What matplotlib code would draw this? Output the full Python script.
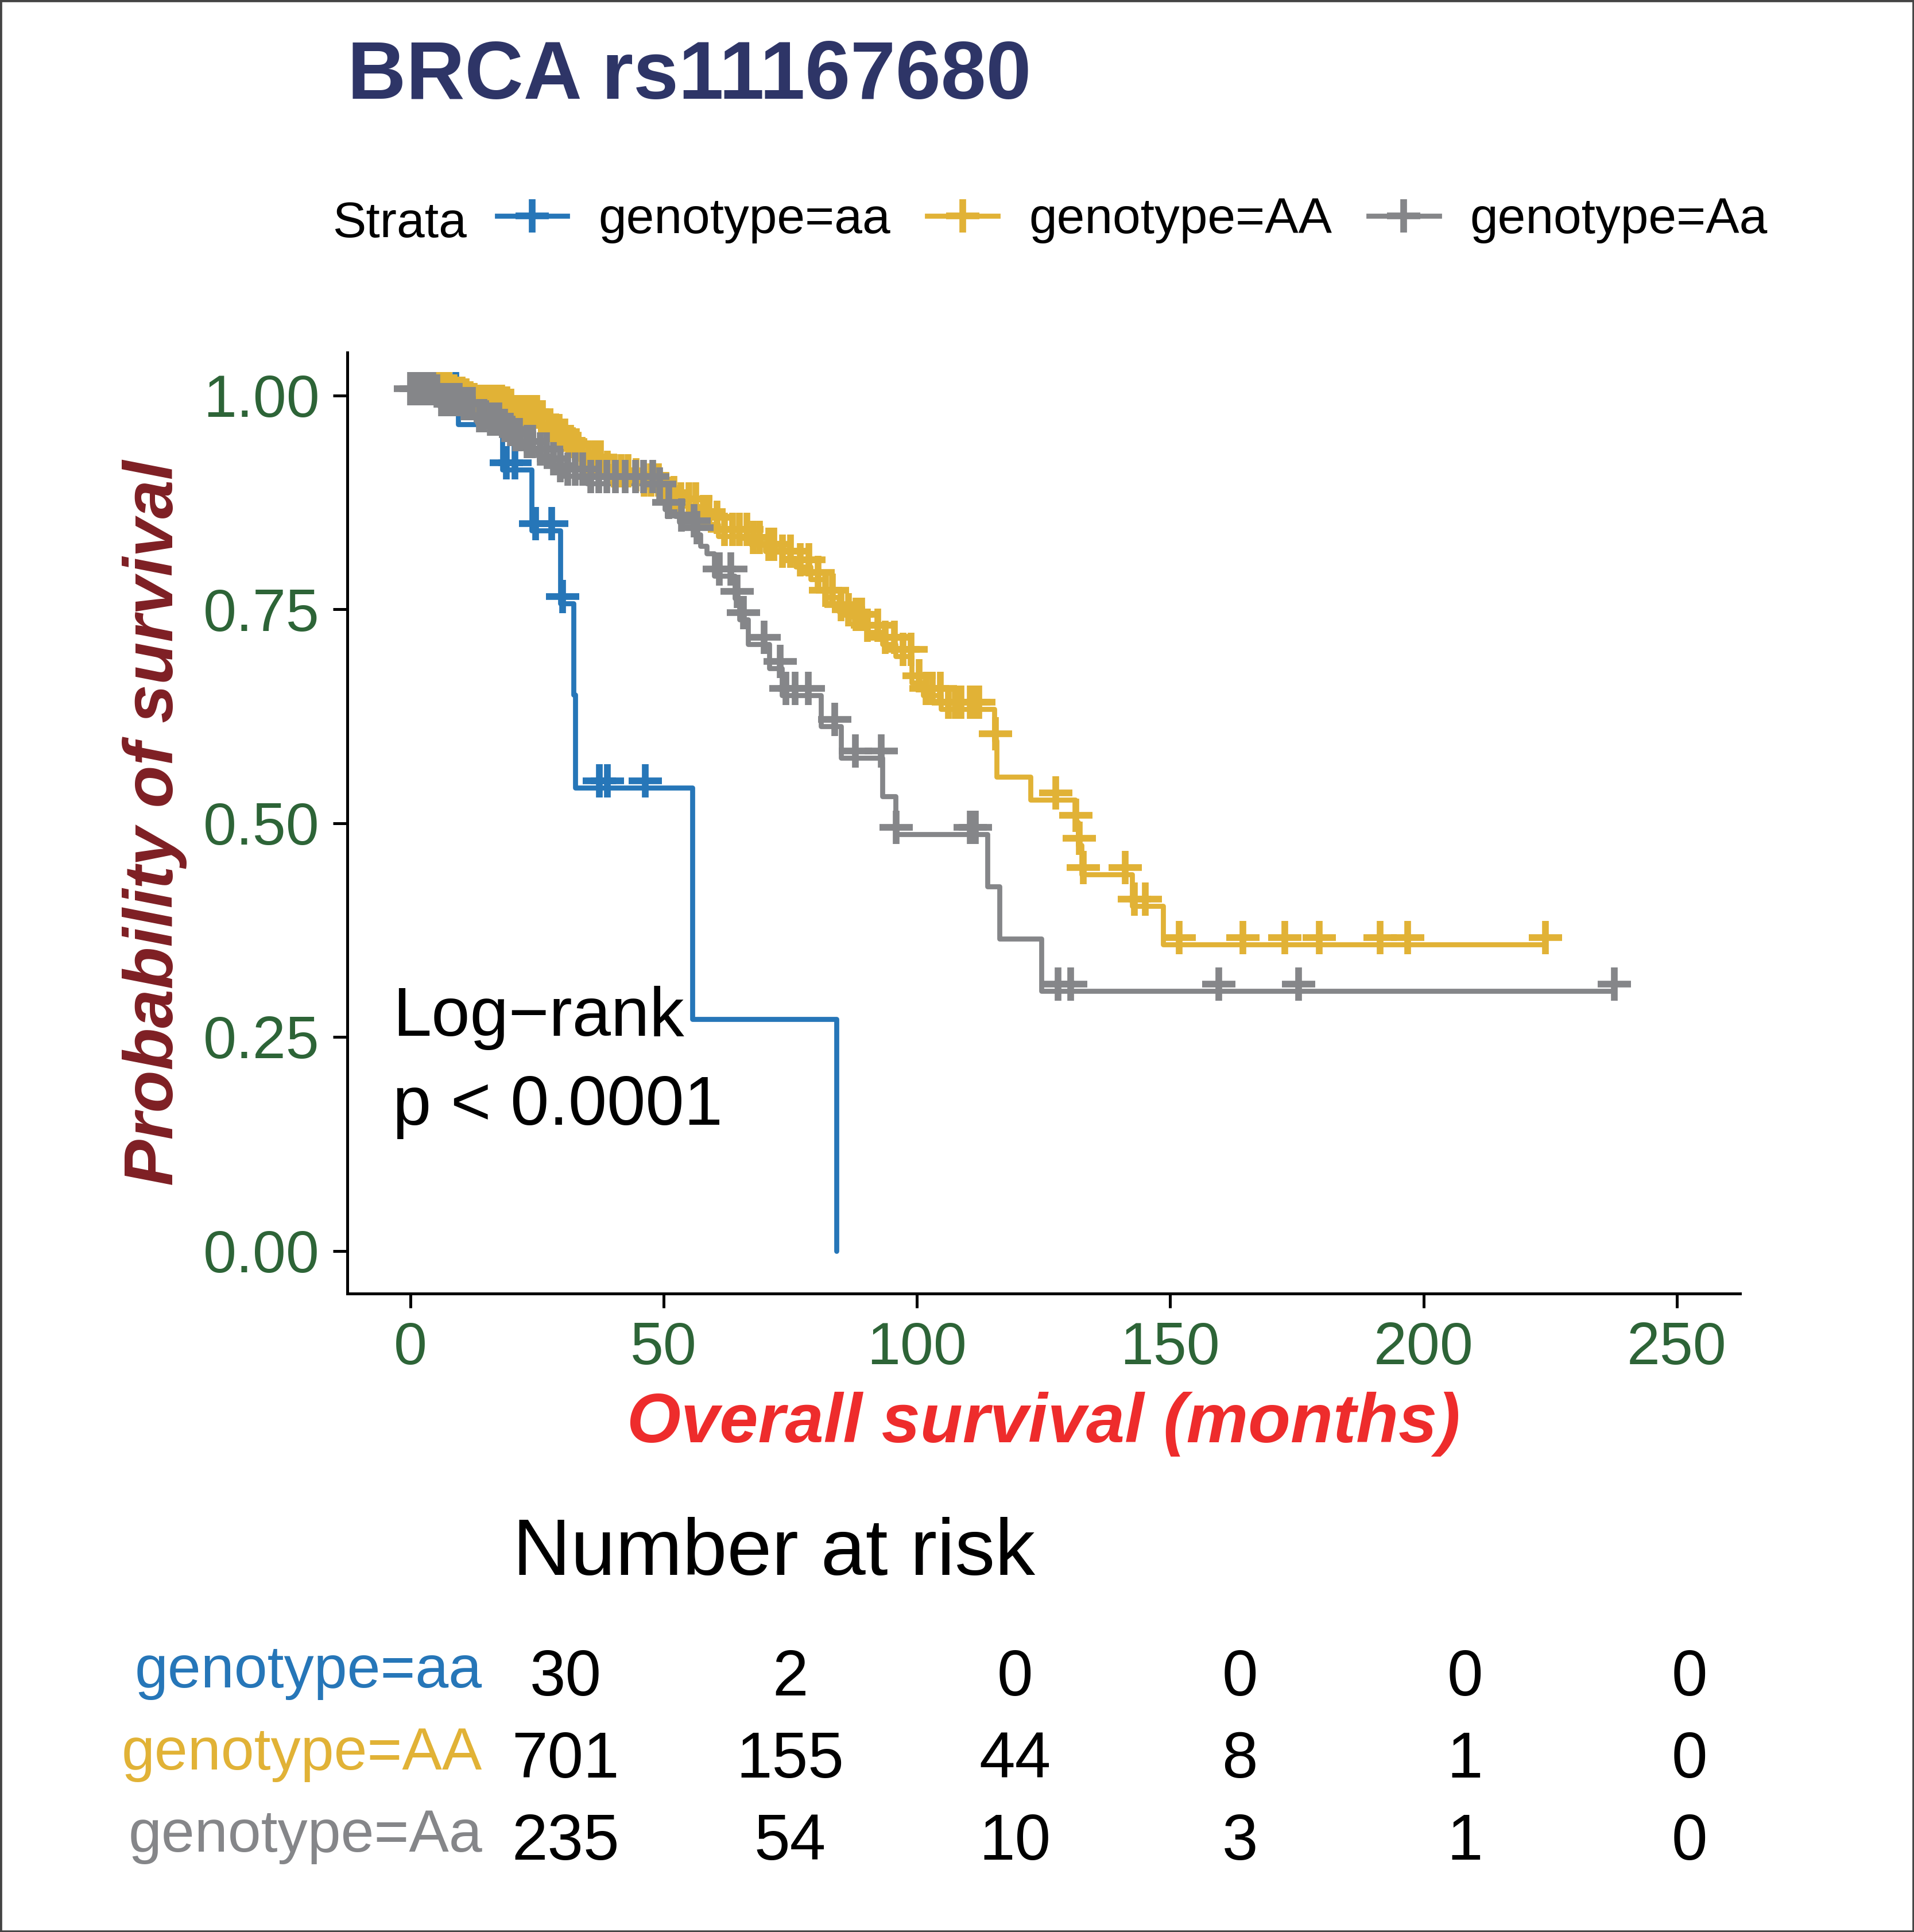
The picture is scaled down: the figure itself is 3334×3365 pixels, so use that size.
import numpy as np
import matplotlib
matplotlib.use("Agg")
import matplotlib.pyplot as plt
import matplotlib.transforms as mtransforms
from matplotlib.lines import Line2D
from matplotlib.patches import Rectangle

plt.rcParams['font.family'] = ['Liberation Sans', 'DejaVu Sans']

# ---------------- data ----------------
title = "BRCA rs11167680"
strata = ["genotype=aa", "genotype=AA", "genotype=Aa"]
colors = ["#2676B8", "#E1B236", "#858689"]

aa_time = [0, 9.4, 18.2, 23.9, 29.6, 32.2, 32.5, 55.7, 84.1]
aa_surv = [1.0, 0.966, 0.913, 0.842, 0.757, 0.650, 0.5416, 0.2708, 0.0]
aa_cens = [6.3, 9.0, 18.9, 20.6, 24.7, 27.9, 30.1, 37.3, 38.9, 46.4]

AA_time = [0, 8.1, 9.0, 10.5, 11.2, 12.1, 12.9, 18.4, 19.5, 20.9, 25.4, 26.8, 28.2,
           29.7, 30.9, 32.2, 33.7, 35.0, 38.1, 39.5, 43.2, 46.0, 49.5, 51.8, 52.8,
           56.8, 59.1, 60.8, 67.2, 70.1, 73.3, 76.1, 79.0, 81.9, 84.6, 86.3, 87.6,
           90.2, 93.2, 95.8, 98.9, 101.2, 104.7, 115.3, 115.7, 122.4, 131.2, 131.8,
           132.5, 142.5, 148.6, 224.1]
AA_surv = [1.0, 0.997, 0.994, 0.992, 0.989, 0.987, 0.985, 0.983, 0.980, 0.973, 0.967,
           0.957, 0.951, 0.945, 0.938, 0.934, 0.924, 0.920, 0.908, 0.904, 0.899, 0.893,
           0.883, 0.878, 0.871, 0.856, 0.849, 0.835, 0.826, 0.818, 0.810, 0.800, 0.785,
           0.764, 0.747, 0.741, 0.736, 0.723, 0.709, 0.695, 0.664, 0.649, 0.633, 0.596,
           0.554, 0.5275, 0.501, 0.474, 0.4397, 0.403, 0.358, 0.358]
AA_cens = [4.5, 5.5, 6.7, 7.6, 8.6, 9.5, 10.2, 11.0, 11.8, 12.6, 13.5, 14.3, 15.2, 16.1,
           17.0, 18.0, 19.0, 19.9, 21.0, 22.1, 23.0, 24.2, 25.0, 26.1, 27.3, 28.5, 29.4,
           30.5, 31.6, 32.8, 33.9, 35.2, 36.4, 37.5, 38.9, 40.3, 41.6, 43.0, 44.5, 46.1,
           47.5, 49.0, 50.5, 52.0, 53.4, 55.0, 56.3, 57.8, 59.0, 60.5, 62.0, 63.6, 65.0,
           66.4, 67.7, 68.9, 70.7, 71.8, 73.5, 75.0, 77.0, 78.7, 80.5, 82.0, 83.3, 85.0,
           86.5, 88.0, 89.1, 90.2, 92.3, 93.7, 95.5, 97.2, 98.8, 100.4, 101.8, 103.0,
           104.6, 106.2, 107.6, 108.7, 110.5, 111.2, 112.2, 115.5, 127.4, 131.4, 132.0,
           132.8, 141.1, 142.9, 145.1, 151.8, 164.3, 172.6, 179.4, 191.4, 196.9, 224.1]

Aa_time = [0, 4.7, 5.8, 10.3, 12.6, 13.2, 15.2, 17.8, 18.9, 20.5, 22.2, 25.2, 27.4,
           29.0, 30.2, 34.8, 48.5, 49.5, 50.2, 52.3, 53.0, 55.9, 56.6, 57.3, 58.5, 60.0,
           64.0, 64.9, 66.6, 70.9, 73.3, 81.1, 85.0, 93.2, 95.8, 113.9, 116.3, 124.6, 237.7]
Aa_surv = [1.0, 0.997, 0.987, 0.982, 0.975, 0.968, 0.964, 0.957, 0.952, 0.946, 0.938,
           0.929, 0.918, 0.910, 0.906, 0.897, 0.888, 0.877, 0.867, 0.859, 0.852, 0.845,
           0.837, 0.824, 0.815, 0.789, 0.763, 0.738, 0.709, 0.681, 0.649, 0.613, 0.576,
           0.531, 0.487, 0.4256, 0.3646, 0.304, 0.304]
Aa_cens = [0.0, 1.2, 2.0, 2.8, 3.5, 4.4, 5.2, 6.1, 7.0, 7.8, 8.9, 9.7, 10.6, 11.5, 12.3,
           13.6, 14.5, 15.8, 16.7, 17.5, 18.6, 19.7, 20.8, 21.6, 23.0, 24.1, 25.6, 26.9,
           28.2, 29.6, 31.1, 32.5, 34.0, 35.6, 37.2, 38.8, 40.5, 42.4, 44.4, 46.0, 47.8,
           49.2, 51.0, 53.5, 56.0, 56.6, 61.0, 63.3, 64.5, 65.8, 69.8, 73.0, 74.1, 75.9,
           78.6, 83.8, 87.9, 92.9, 95.9, 110.5, 111.5, 127.8, 130.4, 159.6, 175.4, 237.7]

risk_times = [0, 50, 100, 150, 200, 250]
risk_aa = [30, 2, 0, 0, 0, 0]
risk_AA = [701, 155, 44, 8, 1, 0]
risk_Aa = [235, 54, 10, 3, 1, 0]

x_ticks = [0, 50, 100, 150, 200, 250]
y_ticks = [0.0, 0.25, 0.50, 0.75, 1.00]
y_tick_labels = ["0.00", "0.25", "0.50", "0.75", "1.00"]
pval_lines = ["Log\u2212rank", "p < 0.0001"]

# ---------------- figure ----------------
W, H, DPI = 3334, 3365, 300
fig = plt.figure(figsize=(W / DPI, H / DPI), dpi=DPI)
fig.patch.set_facecolor("white")

def fx(px):
    return px / W

def fy(py):
    return 1 - py / H

LW = 2.1
MEW = 2.8
MS = 14

ax = fig.add_axes([fx(604.6), fy(2253), fx(3031) - fx(604.6), fy(614) - fy(2253)])
ax.set_xlim(-12.5, 262.5)
ax.set_ylim(-0.05, 1.05)
for s in ["top", "right"]:
    ax.spines[s].set_visible(False)
for s in ["left", "bottom"]:
    ax.spines[s].set_linewidth(1.2)
    ax.spines[s].set_color("black")

tick_green = "#2D6437"
ax.set_xticks(x_ticks)
ax.set_xticklabels([str(t) for t in x_ticks])
ax.set_yticks(y_ticks)
ax.set_yticklabels(y_tick_labels)
ax.tick_params(axis="both", length=6, width=1.2, color="black",
               labelsize=25, labelcolor=tick_green, pad=5.5)

groups = [(aa_time, aa_surv, aa_cens), (AA_time, AA_surv, AA_cens), (Aa_time, Aa_surv, Aa_cens)]

for (t, s, c), col in zip(groups, colors):
    ax.plot(t, s, drawstyle="steps-post", color=col, lw=LW,
            solid_joinstyle="round", solid_capstyle="round", zorder=2)

mark_tr = mtransforms.offset_copy(ax.transData, fig=fig, x=0, y=12, units="dots")
for (t, s, c), col in zip(groups, colors):
    t_arr = np.asarray(t)
    s_arr = np.asarray(s)
    idx = np.searchsorted(t_arr, np.asarray(c), side="right") - 1
    ax.plot(c, s_arr[idx], linestyle="none", marker="+", ms=MS, mew=MEW,
            color=col, transform=mark_tr, zorder=3)

ax.text(-3.5, (2179 - 1804) / 1492, pval_lines[0], fontsize=29, ha="left", va="baseline", color="black")
ax.text(-3.5, (2179 - 1959) / 1492, pval_lines[1], fontsize=29, ha="left", va="baseline", color="black")

# axis labels
fig.text(fx(270), fy(1433), "Probability of survival", rotation=90, ha="center", va="center",
         fontsize=29, fontweight="bold", fontstyle="italic", color="#7E1F24")
fig.text(fx(1818), fy(2512), "Overall survival (months)", ha="center", va="baseline",
         fontsize=29, fontweight="bold", fontstyle="italic", color="#EE2C2C")

# title
fig.text(fx(604.6), fy(172), title, ha="left", va="baseline", fontsize=34,
         fontweight="bold", color="#2E3567")

# legend
fig.text(fx(579), fy(413), "Strata", ha="left", va="baseline", fontsize=21, color="black")
handles = [Line2D([0], [0], color=col, lw=LW, marker="+", ms=MS, mew=MEW) for col in colors]
fig.legend(handles, strata, loc="center left", bbox_to_anchor=(fx(866), fy(384)),
           ncol=3, frameon=False, borderpad=0, borderaxespad=0, fontsize=21,
           handlelength=1.4, handletextpad=0.62, columnspacing=0.73)

# risk table
fig.text(fx(893), fy(2743), "Number at risk", ha="left", va="baseline", fontsize=33.6, color="black")
axr = fig.add_axes([fx(887), fy(3269.5), fx(3041) - fx(887), fy(2840.5) - fy(3269.5)])
axr.set_xlim(-12.5, 262.5)
axr.set_ylim(2.5, -0.5)
axr.axis("off")
num_tr = mtransforms.offset_copy(axr.transData, fig=fig, x=0, y=-41, units="dots")
lab_tr = mtransforms.offset_copy(
    mtransforms.blended_transform_factory(fig.transFigure, axr.transData),
    fig=fig, x=0, y=-27, units="dots")
for i, (row, col, name) in enumerate(zip([risk_aa, risk_AA, risk_Aa], colors, strata)):
    for tt, n in zip(risk_times, row):
        axr.text(tt, i, str(n), ha="center", va="baseline", fontsize=27,
                 color="black", transform=num_tr)
    axr.text(fx(840), i, name, ha="right", va="baseline", fontsize=25,
             color=col, transform=lab_tr)

# figure border
fig.add_artist(Rectangle((0, 0), 1, 1, transform=fig.transFigure, fill=False,
                         edgecolor="#444444", linewidth=1.6))

fig.savefig("out.png", dpi=DPI, facecolor="white")
